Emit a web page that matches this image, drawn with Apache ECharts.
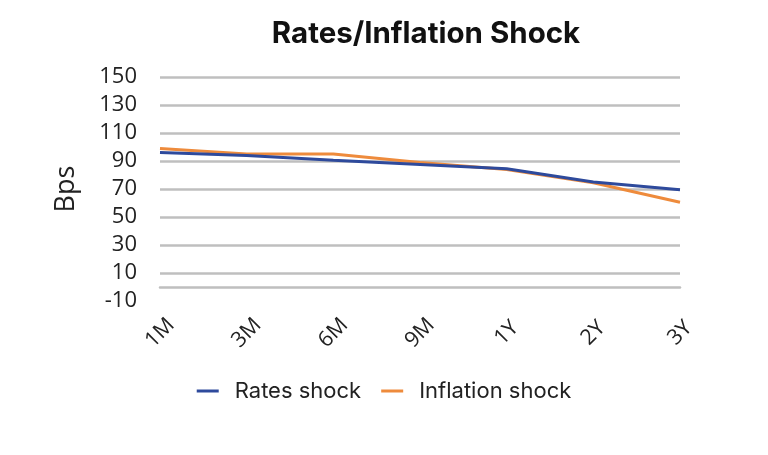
<!DOCTYPE html>
<html>
<head>
<meta charset="utf-8">
<script src="https://cdn.jsdelivr.net/npm/echarts@6/dist/echarts.min.js"></script>
<style>html,body{margin:0;padding:0;background:#fff}#c{width:768px;height:455px}</style>
</head>
<body>
<div id="c"></div>
<script>
var categories = ['1M', '3M', '6M', '9M', '1Y', '2Y', '3Y'];
var ratesShock = [96, 94, 90.5, 87.5, 84.5, 75, 69.5];
var inflationShock = [99, 95, 95, 89, 84, 74.5, 60.5];
var yTicks = { min: -10, max: 150, interval: 20 };

var chart = echarts.init(document.getElementById('c'));
var grid = '#bfbfbf';
chart.setOption({
  animation: false,
  title: {
    text: 'Rates/Inflation Shock',
    left: 421, top: 14, textAlign: 'center',
    textStyle: { fontFamily: 'Inter', fontSize: 29.5, fontWeight: 'bold', color: '#111' }
  },
  legend: {
    top: 375, left: 'center',
    itemWidth: 22, itemHeight: 3, itemGap: 20,
    icon: 'rect',
    textStyle: { fontFamily: 'Inter', fontSize: 22, color: '#222', padding: [0, 0, 0, 11] },
    data: ['Rates shock', 'Inflation shock']
  },
  grid: { left: 160, right: 88, top: 77, bottom: 154 },
  xAxis: {
    type: 'category', data: categories, boundaryGap: false,
    axisLine: { onZero: true, lineStyle: { color: grid, width: 2.5 } },
    axisTick: { show: false },
    axisLabel: { rotate: 45, align: 'center', verticalAlign: 'middle', margin: 32,
      fontFamily: 'Open Sans', fontSize: 21.5, color: '#222' },
    splitLine: { show: false }
  },
  yAxis: {
    type: 'value', min: yTicks.min, max: yTicks.max, interval: yTicks.interval,
    name: 'Bps', nameLocation: 'middle', nameGap: 80, nameRotate: 90,
    nameTextStyle: { fontFamily: 'Open Sans', fontSize: 27, color: '#222' },
    axisLine: { show: false }, axisTick: { show: false },
    axisLabel: { margin: 23, fontFamily: 'Open Sans', fontSize: 22, color: '#222' },
    splitLine: { lineStyle: { width: 2.5, color: ['rgba(0,0,0,0)', grid, grid, grid, grid, grid, grid, grid, grid] } }
  },
  series: [
    { name: 'Rates shock', type: 'line', data: ratesShock, symbol: 'none',
      lineStyle: { color: '#2E4A9C', width: 3 }, itemStyle: { color: '#2E4A9C' }, z: 3 },
    { name: 'Inflation shock', type: 'line', data: inflationShock, symbol: 'none',
      lineStyle: { color: '#EE8B3C', width: 3 }, itemStyle: { color: '#EE8B3C' }, z: 2 }
  ]
});
</script>
</body>
</html>
